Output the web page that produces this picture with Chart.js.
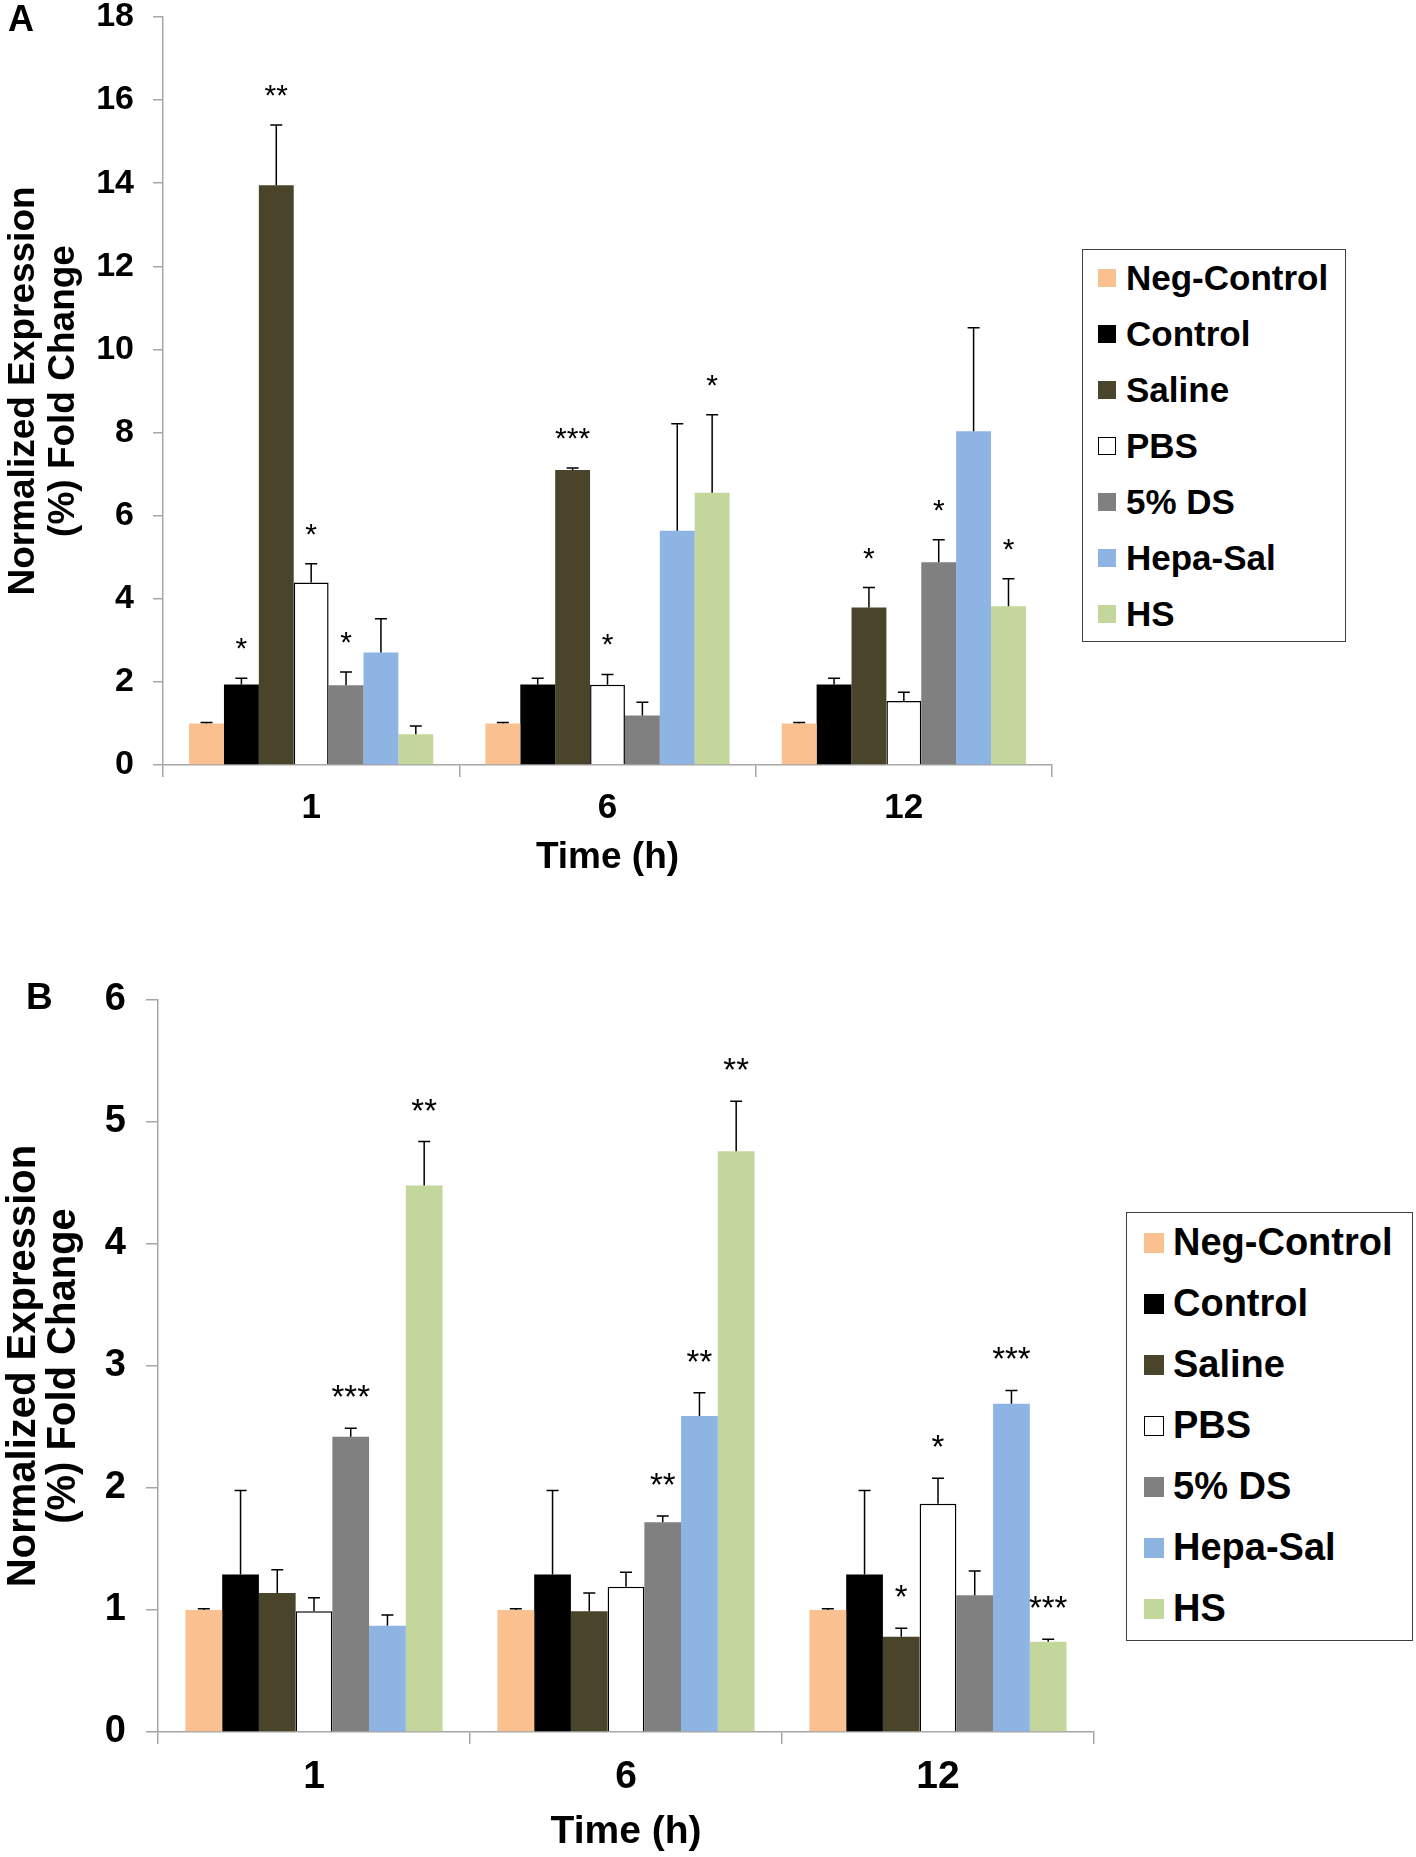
<!DOCTYPE html>
<html>
<head>
<meta charset="utf-8">
<script src="https://cdn.jsdelivr.net/npm/chart.js@4.4.0/dist/chart.umd.min.js"></script>
<style>
  body { margin: 0; background: #fff; width: 1416px; height: 1857px; position: relative; overflow: hidden;
         font-family: 'Liberation Sans', Arial, sans-serif; }
  canvas { position: absolute; left: 0; }
  #chartA { top: -19px; }
  #chartB { top: 961px; }
  .panel-label { position: absolute; font-weight: bold; line-height: 1; color: #000; }
  .legend { position: absolute; border: 1.5px solid #404040; box-sizing: border-box; background: #fff; }
  .legend .row { position: absolute; left: 0; display: flex; align-items: center; font-weight: bold; white-space: nowrap; color: #000; }
  .legend .sw { position: absolute; box-sizing: border-box; }
</style>
</head>
<body>
<canvas id="chartA" width="1070" height="920"></canvas>
<canvas id="chartB" width="1110" height="896"></canvas>
<div class="panel-label" style="left:8px; top:1px; font-size:36px;">A</div>
<div class="panel-label" style="left:26px; top:978px; font-size:37px;">B</div>
<div id="legendA" class="legend"></div>
<div id="legendB" class="legend"></div>

<script>
// categories (time points) and series
const timePoints = ['1', '6', '12'];
const seriesNames = ['Neg-Control', 'Control', 'Saline', 'PBS', '5% DS', 'Hepa-Sal', 'HS'];
const seriesColors = ['#FAC090', '#000000', '#4A452A', '#FFFFFF', '#808080', '#8EB4E3', '#C3D69B'];

// Panel A values, error bars and significance marks
const negCtrlA  = [1.00, 1.00, 1.00];
const controlA  = [1.94, 1.94, 1.94];
const salineA   = [13.95, 7.10, 3.79];
const pbsA      = [4.39, 1.93, 1.54];
const ds5A      = [1.92, 1.19, 4.88];
const hepaSalA  = [2.71, 5.64, 8.03];
const hsA       = [0.74, 6.55, 3.82];

const negCtrlErrA = [0.02, 0.02, 0.02];
const controlErrA = [0.15, 0.15, 0.15];
const salineErrA  = [1.45, 0.05, 0.48];
const pbsErrA     = [0.45, 0.25, 0.21];
const ds5ErrA     = [0.32, 0.32, 0.54];
const hepaSalErrA = [0.81, 2.57, 2.49];
const hsErrA      = [0.20, 1.88, 0.66];

const starsA = [
  ['', '', ''],
  ['*', '', ''],
  ['**', '***', '*'],
  ['*', '*', ''],
  ['*', '', '*'],
  ['', '', ''],
  ['', '*', '*']
];
const yTicksA = [0, 2, 4, 6, 8, 10, 12, 14, 16, 18];

// Panel B values, error bars and significance marks
const negCtrlB  = [1.00, 1.00, 1.00];
const controlB  = [1.29, 1.29, 1.29];
const salineB   = [1.14, 0.99, 0.78];
const pbsB      = [0.99, 1.19, 1.87];
const ds5B      = [2.42, 1.72, 1.12];
const hepaSalB  = [0.87, 2.59, 2.69];
const hsB       = [4.48, 4.76, 0.74];

const negCtrlErrB = [0.01, 0.01, 0.01];
const controlErrB = [0.69, 0.69, 0.69];
const salineErrB  = [0.19, 0.15, 0.07];
const pbsErrB     = [0.11, 0.12, 0.21];
const ds5ErrB     = [0.07, 0.05, 0.20];
const hepaSalErrB = [0.09, 0.19, 0.11];
const hsErrB      = [0.36, 0.41, 0.02];

const starsB = [
  ['', '', ''],
  ['', '', ''],
  ['', '', '*'],
  ['', '', '*'],
  ['***', '**', ''],
  ['', '**', '***'],
  ['**', '**', '***']
];
const yTicksB = [0, 1, 2, 3, 4, 5, 6];

const axisGray = '#a6a6a6';
const fontFamily = "'Liberation Sans', Arial, sans-serif";

// error bars and stars drawn from the bar elements
const errorBarPlugin = {
  id: 'errorBars',
  afterDatasetsDraw(chart, args, opts) {
    const ctx = chart.ctx;
    const yScale = chart.scales.y;
    chart.data.datasets.forEach((ds, i) => {
      const meta = chart.getDatasetMeta(i);
      meta.data.forEach((bar, j) => {
        const top = yScale.getPixelForValue(ds.data[j] + ds.errors[j]);
        ctx.save();
        ctx.strokeStyle = '#000';
        ctx.lineWidth = 1.5;
        ctx.beginPath();
        ctx.moveTo(bar.x, bar.y);
        ctx.lineTo(bar.x, top);
        ctx.moveTo(bar.x - opts.cap, top);
        ctx.lineTo(bar.x + opts.cap, top);
        ctx.stroke();
        if (ds.stars[j]) {
          ctx.fillStyle = '#000';
          ctx.font = opts.starFont;
          ctx.textAlign = 'center';
          ctx.textBaseline = 'alphabetic';
          ctx.fillText(ds.stars[j], bar.x, top - opts.starGap);
        }
        ctx.restore();
      });
    });
  }
};

function makeDatasets(values, errors, stars) {
  return seriesNames.map((name, i) => ({
    label: name,
    data: values[i],
    errors: errors[i],
    stars: stars[i],
    backgroundColor: seriesColors[i],
    borderColor: '#000',
    borderWidth: name === 'PBS' ? 1.5 : 0,
    categoryPercentage: 0.824,
    barPercentage: 1.0
  }));
}

function makeChart(canvasId, datasets, cfg) {
  return new Chart(document.getElementById(canvasId), {
    type: 'bar',
    data: { labels: timePoints, datasets: datasets },
    plugins: [errorBarPlugin],
    options: {
      responsive: false,
      animation: false,
      devicePixelRatio: 1,
      layout: { padding: { top: cfg.padTop, right: cfg.padRight, left: 0, bottom: 0 } },
      plugins: {
        legend: { display: false },
        tooltip: { enabled: false },
        errorBars: { cap: 6, starFont: cfg.starFont, starGap: 20 }
      },
      scales: {
        x: {
          afterFit(scale) { scale.height = cfg.xHeight; },
          grid: { offset: true, drawOnChartArea: false, drawTicks: true, tickLength: 12, color: axisGray, lineWidth: 1.5 },
          border: { display: true, color: axisGray, width: 1.5 },
          ticks: { color: '#000', padding: 10, font: { family: fontFamily, size: cfg.xTickSize, weight: 'bold' } },
          title: {
            display: true, text: 'Time (h)', color: '#000',
            padding: { top: 0, bottom: cfg.xTitlePad },
            font: { family: fontFamily, size: cfg.xTitleSize, weight: 'bold', lineHeight: 1.2 }
          }
        },
        y: {
          min: 0,
          max: cfg.yTicks[cfg.yTicks.length - 1],
          afterFit(scale) { scale.width = cfg.yWidth; },
          afterBuildTicks(scale) { scale.ticks = cfg.yTicks.map(v => ({ value: v })); },
          grid: { drawOnChartArea: false, drawTicks: true, tickLength: cfg.yTickLen, color: axisGray, lineWidth: 1.5 },
          border: { display: true, color: axisGray, width: 1.5 },
          ticks: { color: '#000', padding: cfg.yTickPad, font: { family: fontFamily, size: cfg.yTickSize, weight: 'bold', lineHeight: 1 } },
          title: {
            display: true, text: ['Normalized Expression', '(%) Fold Change'], color: '#000',
            padding: { top: cfg.yTitlePad, bottom: 0 },
            font: { family: fontFamily, size: cfg.yTitleSize, weight: 'bold', lineHeight: cfg.yTitleLH }
          }
        }
      }
    }
  });
}

// legend boxes built from the series arrays
function buildLegend(id, box) {
  const el = document.getElementById(id);
  el.style.left = box.left + 'px';
  el.style.top = box.top + 'px';
  el.style.width = box.width + 'px';
  el.style.height = box.height + 'px';
  seriesNames.forEach((name, i) => {
    const cy = box.first + i * box.step;
    const sw = document.createElement('div');
    sw.className = 'sw';
    sw.style.left = box.swLeft + 'px';
    sw.style.top = (cy - box.sw / 2) + 'px';
    sw.style.width = box.sw + 'px';
    sw.style.height = box.sw + 'px';
    sw.style.background = seriesColors[i];
    if (name === 'PBS') sw.style.border = '1.5px solid #000';
    el.appendChild(sw);
    const row = document.createElement('div');
    row.className = 'row';
    row.style.left = box.textLeft + 'px';
    row.style.top = (cy - box.font * 0.6) + 'px';
    row.style.height = (box.font * 1.2) + 'px';
    row.style.fontSize = box.font + 'px';
    row.textContent = name;
    el.appendChild(row);
  });
}

makeChart('chartA',
  makeDatasets([negCtrlA, controlA, salineA, pbsA, ds5A, hepaSalA, hsA],
               [negCtrlErrA, controlErrA, salineErrA, pbsErrA, ds5ErrA, hepaSalErrA, hsErrA], starsA),
  { padTop: 36, padRight: 18, xHeight: 136, yWidth: 163, yTicks: yTicksA, yTickLen: 10, yTickPad: 19,
    xTickSize: 35, xTitleSize: 37, xTitlePad: 21, yTickSize: 34, yTitleSize: 37, yTitleLH: 1.1, yTitlePad: 3,
    starFont: "30px 'Liberation Sans', Arial, sans-serif" });

makeChart('chartB',
  makeDatasets([negCtrlB, controlB, salineB, pbsB, ds5B, hepaSalB, hsB],
               [negCtrlErrB, controlErrB, salineErrB, pbsErrB, ds5ErrB, hepaSalErrB, hsErrB], starsB),
  { padTop: 39, padRight: 16, xHeight: 125, yWidth: 158, yTicks: yTicksB, yTickLen: 12, yTickPad: 20,
    xTickSize: 39, xTitleSize: 39, xTitlePad: 1, yTickSize: 38, yTitleSize: 40, yTitleLH: 1.0, yTitlePad: 3.5,
    starFont: "33px 'Liberation Sans', Arial, sans-serif" });

buildLegend('legendA', { left: 1082, top: 249, width: 264, height: 393, first: 28, step: 56,
                         swLeft: 15, sw: 18, textLeft: 43, font: 35 });
buildLegend('legendB', { left: 1126, top: 1212, width: 287, height: 429, first: 30, step: 61,
                         swLeft: 17, sw: 20, textLeft: 46, font: 38 });
</script>
</body>
</html>
